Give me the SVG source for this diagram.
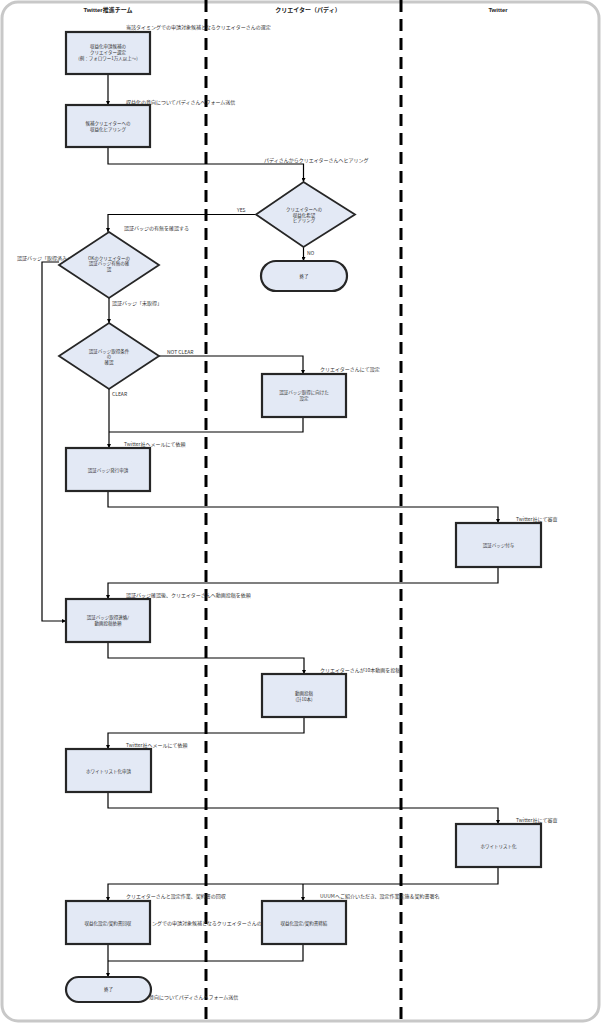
<svg xmlns="http://www.w3.org/2000/svg" width="601" height="1024" viewBox="0 0 601 1024">
<defs>
<marker id="arr" viewBox="0 0 10 10" refX="10" refY="5" markerWidth="4" markerHeight="4" orient="auto" markerUnits="userSpaceOnUse"><path d="M0,0 L10,5 L0,10 z" fill="#000"/></marker>
<style>
.frame{fill:#fff;stroke:#c8c8c8;stroke-width:3}
.lane{stroke:#000;stroke-width:3;stroke-dasharray:12 7;fill:none}
.hdr{font-family:"Liberation Sans","Noto Sans CJK JP",sans-serif;font-size:6px;font-weight:bold;text-anchor:middle;fill:#222}
.c{fill:none;stroke:#000;stroke-width:1.2}
.ca{fill:none;stroke:#000;stroke-width:1.2;marker-end:url(#arr)}
.lbl{font-family:"Noto Sans CJK JP",sans-serif;font-size:5px;fill:#333}
.box{fill:#e3e9f5;stroke:#262626;stroke-width:2.2}
.dia{fill:#e3e9f5;stroke:#262626;stroke-width:1.8}
.t{font-family:"Noto Sans CJK JP",sans-serif;font-size:4.5px;fill:#333;text-anchor:middle}
</style>
</defs>
<rect class="frame" x="2" y="2" width="597" height="1019" rx="16"/>
<g id="lanes">
<line class="lane" x1="206" y1="0" x2="206" y2="1024"/>
<line class="lane" x1="401" y1="0" x2="401" y2="1024"/>
<text class="hdr" x="108" y="12">Twitter推進チーム</text>
<text class="hdr" x="308" y="12">クリエイター（パディ）</text>
<text class="hdr" x="498" y="12">Twitter</text>
</g>
<g id="connectors">
<path class="ca" d="M108,74 V105"/>
<path class="ca" d="M108,147 V164 H303.5 V182"/>
<path class="ca" d="M256,214.5 H108 V232"/>
<path class="ca" d="M303.5,247 V261"/>
<path class="ca" d="M59,262 H42 V621 H66"/>
<path class="ca" d="M109,298 V323"/>
<path class="ca" d="M159,356 H303 V374"/>
<path class="ca" d="M109,389 V448"/>
<path class="c" d="M303,417 V432 H109"/>
<path class="ca" d="M108,491 V507 H498 V523"/>
<path class="ca" d="M498,567 V583 H108 V599"/>
<path class="ca" d="M108,642 V658 H304 V674"/>
<path class="ca" d="M304,717 V733 H108 V749"/>
<path class="ca" d="M108,792 V808 H498 V824"/>
<path class="ca" d="M498,867 V884 H108 V901"/>
<path class="ca" d="M303,884 V901"/>
<path class="ca" d="M108,944 V977"/>
<path class="c" d="M303,944 V961 H108"/>
<text class="lbl" x="126" y="29">当該タイミングでの申請対象候補となるクリエイターさんの選定</text>
<text class="lbl" x="126" y="104">収益化の意向についてパディさんへフォーム送信</text>
<text class="lbl" x="264" y="162">パディさんからクリエイターさんへヒアリング</text>
<text class="lbl" x="237" y="212">YES</text>
<text class="lbl" x="124" y="230">認証バッジの有無を確認する</text>
<text class="lbl" x="307" y="255">NO</text>
<text class="lbl" x="17" y="260">認証バッジ「取得済み」</text>
<text class="lbl" x="112" y="305">認証バッジ「未取得」</text>
<text class="lbl" x="167" y="354">NOT CLEAR</text>
<text class="lbl" x="320" y="371">クリエイターさんにて設定</text>
<text class="lbl" x="112" y="396">CLEAR</text>
<text class="lbl" x="124" y="446">Twitter社へメールにて依頼</text>
<text class="lbl" x="516" y="521">Twitter社にて審査</text>
<text class="lbl" x="126" y="597">認証バッジ確認後、クリエイターさんへ動画投稿を依頼</text>
<text class="lbl" x="320" y="672">クリエイターさんが10本動画を投稿</text>
<text class="lbl" x="126" y="747">Twitter社へメールにて依頼</text>
<text class="lbl" x="516" y="822">Twitter社にて審査</text>
<text class="lbl" x="126" y="898">クリエイターさんと設定作業、契約書の回収</text>
<text class="lbl" x="320" y="898">UUUMへご紹介いただき、設定作業実施＆契約書署名</text>
<text class="lbl" x="152" y="925">ングでの申請対象候補となるクリエイターさんの選</text>
<text class="lbl" x="149" y="999">意向についてパディさんへフォーム送信</text>
</g>
<g id="n1"><rect class="box" x="66" y="32" width="84" height="42"/><text class="t" x="108" y="48">収益化申請候補の</text><text class="t" x="108" y="54">クリエイター選定</text><text class="t" x="108" y="60">(例：フォロワー1万人以上～)</text></g>
<g id="n2"><rect class="box" x="66" y="105" width="84" height="42"/><text class="t" x="108" y="124.5">候補クリエイターへの</text><text class="t" x="108" y="130.5">収益化ヒアリング</text></g>
<g id="d1"><polygon class="dia" points="303.5,182 355,214.5 303.5,247 256,214.5"/><text class="t" x="304" y="211">クリエイターへの</text><text class="t" x="304" y="216.5">収益化希望</text><text class="t" x="304" y="222">ヒアリング</text></g>
<g id="end1"><rect class="box" x="261" y="261" width="86" height="30" rx="15"/><text class="t" x="304" y="277.5">終了</text></g>
<g id="d2"><polygon class="dia" points="109,232 159,265 109,298 59,265"/><text class="t" x="109" y="259.5">OKのクリエイターの</text><text class="t" x="109" y="265">認証バッジ有無の確</text><text class="t" x="109" y="270.5">認</text></g>
<g id="d3"><polygon class="dia" points="109,323 159,356 109,389 59,356"/><text class="t" x="109" y="352.5">認証バッジ取得条件</text><text class="t" x="109" y="358">の</text><text class="t" x="109" y="363.5">確認</text></g>
<g id="n3"><rect class="box" x="262" y="374" width="84" height="43"/><text class="t" x="304" y="393.5">認証バッジ取得に向けた</text><text class="t" x="304" y="399.5">設定</text></g>
<g id="n4"><rect class="box" x="66" y="448" width="84" height="43"/><text class="t" x="108" y="471.5">認証バッジ発行申請</text></g>
<g id="n5"><rect class="box" x="456" y="523" width="85" height="44"/><text class="t" x="498.5" y="546.5">認証バッジ付与</text></g>
<g id="n6"><rect class="box" x="66" y="599" width="84" height="43"/><text class="t" x="108" y="618.5">認証バッジ取得連絡/</text><text class="t" x="108" y="624.5">動画投稿依頼</text></g>
<g id="n7"><rect class="box" x="262" y="674" width="84" height="43"/><text class="t" x="304" y="694.5">動画投稿</text><text class="t" x="304" y="700.5">(計10本)</text></g>
<g id="n8"><rect class="box" x="66" y="749" width="85" height="43"/><text class="t" x="108.5" y="772.5">ホワイトリスト化申請</text></g>
<g id="n9"><rect class="box" x="456" y="824" width="85" height="43"/><text class="t" x="498.5" y="847.5">ホワイトリスト化</text></g>
<g id="n10"><rect class="box" x="66" y="901" width="84" height="43"/><text class="t" x="108" y="924.5">収益化設定/契約書回収</text></g>
<g id="n11"><rect class="box" x="262" y="901" width="84" height="43"/><text class="t" x="304" y="924.5">収益化設定/契約書締結</text></g>
<g id="end2"><rect class="box" x="66" y="977" width="85" height="25" rx="12.5"/><text class="t" x="108.5" y="991">終了</text></g>
</svg>
